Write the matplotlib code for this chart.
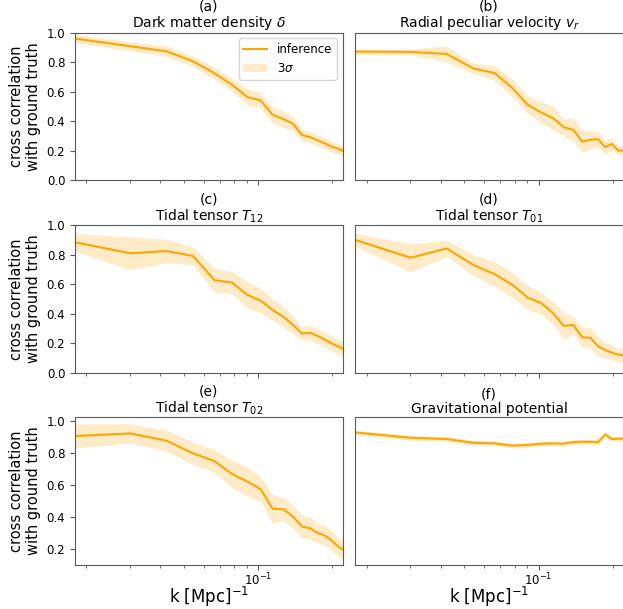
import numpy as np
import matplotlib
matplotlib.use("Agg")
import matplotlib.pyplot as plt

# k bins [Mpc^-1]
k = [0.0180, 0.0302, 0.0423, 0.0543, 0.0663, 0.0783, 0.0904, 0.1024, 0.1144,
     0.1265, 0.1385, 0.1505, 0.1625, 0.1746, 0.1866, 0.1986, 0.2107, 0.2227]

# cross correlation (mean) and 3 sigma half width, one pair per field
delta_mean = [0.959, 0.907, 0.873, 0.805, 0.725, 0.646, 0.563, 0.540, 0.443,
              0.414, 0.382, 0.307, 0.292, 0.270, 0.250, 0.228, 0.215, 0.195]
delta_err = [0.030, 0.030, 0.035, 0.035, 0.040, 0.045, 0.055, 0.050, 0.055,
             0.055, 0.050, 0.040, 0.037, 0.037, 0.037, 0.037, 0.037, 0.037]

vr_mean = [0.871, 0.869, 0.855, 0.757, 0.726, 0.624, 0.511, 0.459, 0.421,
           0.360, 0.341, 0.262, 0.274, 0.278, 0.224, 0.246, 0.201, 0.200]
vr_err = [0.020, 0.020, 0.055, 0.035, 0.050, 0.060, 0.060, 0.070, 0.080,
          0.055, 0.080, 0.075, 0.060, 0.050, 0.045, 0.040, 0.030, 0.030]

t12_mean = [0.883, 0.809, 0.824, 0.791, 0.628, 0.610, 0.527, 0.489, 0.426,
            0.380, 0.324, 0.268, 0.272, 0.250, 0.225, 0.200, 0.180, 0.160]
t12_err = [0.060, 0.110, 0.080, 0.060, 0.080, 0.075, 0.090, 0.080, 0.070,
           0.070, 0.060, 0.045, 0.050, 0.050, 0.050, 0.050, 0.050, 0.050]

t01_mean = [0.899, 0.779, 0.842, 0.730, 0.668, 0.595, 0.509, 0.473, 0.405,
            0.318, 0.324, 0.242, 0.238, 0.180, 0.155, 0.137, 0.124, 0.118]
t01_err = [0.045, 0.095, 0.055, 0.070, 0.085, 0.085, 0.080, 0.075, 0.075,
           0.090, 0.055, 0.070, 0.070, 0.065, 0.055, 0.050, 0.045, 0.045]

t02_mean = [0.905, 0.921, 0.876, 0.797, 0.749, 0.668, 0.621, 0.573, 0.451,
            0.449, 0.403, 0.341, 0.331, 0.300, 0.285, 0.255, 0.218, 0.195]
t02_err = [0.075, 0.060, 0.065, 0.070, 0.070, 0.085, 0.090, 0.075, 0.090,
           0.070, 0.070, 0.070, 0.070, 0.060, 0.060, 0.060, 0.060, 0.060]

phi_mean = [0.927, 0.894, 0.886, 0.863, 0.859, 0.845, 0.849, 0.857, 0.859,
            0.857, 0.867, 0.869, 0.869, 0.867, 0.915, 0.886, 0.888, 0.888]
phi_err = [0.015] * 18

titles = ["(a)\nDark matter density $\\delta$",
          "(b)\nRadial peculiar velocity $v_r$",
          "(c)\nTidal tensor $T_{12}$",
          "(d)\nTidal tensor $T_{01}$",
          "(e)\nTidal tensor $T_{02}$",
          "(f)\nGravitational potential"]
means = [delta_mean, vr_mean, t12_mean, t01_mean, t02_mean, phi_mean]
errs = [delta_err, vr_err, t12_err, t01_err, t02_err, phi_err]

W, H = 623, 609
fig = plt.figure(figsize=(W / 100, H / 100), dpi=100)

cols = [(75, 267.5), (355.3, 267.5)]
rows = [(32.5, 180.3), (225, 373), (416.7, 565)]

spine_col = "0.35"
for i in range(6):
    r, c = i // 2, i % 2
    x0, w = cols[c]
    top, bot = rows[r]
    ax = fig.add_axes([x0 / W, 1 - bot / H, w / W, (bot - top) / H])
    m = np.array(means[i])
    e = np.array(errs[i])
    ax.plot(k, m, color="orange", lw=1.5, label="inference")
    ax.fill_between(k, m - e, m + e, color="orange", alpha=0.22, lw=0, label="3$\\sigma$")
    ax.set_xscale("log")
    ax.set_xlim(0.018, 0.22)
    if r < 2:
        ax.set_ylim(0, 1)
        ax.set_yticks([0, 0.2, 0.4, 0.6, 0.8, 1.0])
        ax.tick_params(axis="x", which="both", labelbottom=False)
    else:
        ax.set_ylim(0.102, 1.025)
        ax.set_yticks([0.2, 0.4, 0.6, 0.8, 1.0])
        ax.set_xlabel("k [Mpc]$^{-1}$", fontsize=12, labelpad=-2.5)
    if c == 0:
        ax.set_ylabel("cross correlation\nwith ground truth", fontsize=10.5)
    else:
        ax.tick_params(axis="y", left=False, labelleft=False)
    ax.tick_params(labelsize=8.5, color=spine_col)
    ax.tick_params(axis="x", which="both", pad=1.5)
    ax.tick_params(which="minor", color=spine_col)
    for s in ax.spines.values():
        s.set_color(spine_col)
    ax.set_title(titles[i], fontsize=10, pad=2.5, linespacing=1.05)
    if i == 0:
        ax.legend(loc="upper right", fontsize=8.5)

fig.savefig("out.png", dpi=100)
